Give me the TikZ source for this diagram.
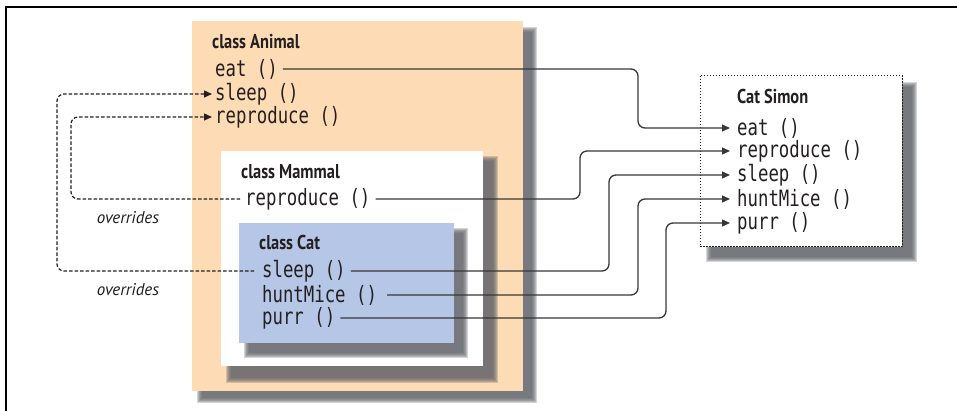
\documentclass[tikz,border=0pt]{standalone}
\usepackage{fontspec}
\setmainfont{PT Sans}
\newfontfamily\monof[FakeStretch=0.77]{DejaVu Sans Mono}
\newfontfamily\headf[FakeStretch=0.82]{PT Sans}
\usetikzlibrary{arrows.meta}
\definecolor{peach}{RGB}{253,219,180}
\definecolor{catblue}{RGB}{181,198,230}
\definecolor{shd}{RGB}{100,101,106}
\definecolor{txt}{RGB}{35,31,32}
\definecolor{linec}{RGB}{55,55,55}
\newcommand{\softshadow}[4]{%
  \foreach \k in {0,1,2,3,4,5}{%
    \fill[shd, opacity=0.28] (#1+\k,#2+\k) rectangle (#3-\k,#4-\k);
  }}
\tikzset{
  mono/.style={font=\monof\fontsize{22.5}{22.5}\selectfont, text=txt, inner sep=1pt, anchor=west},
  head/.style={font=\headf\bfseries\fontsize{20}{20}\selectfont, text=txt, inner sep=1pt, anchor=west},
  ovr/.style={font=\itshape\fontsize{17}{17}\selectfont, text=txt, inner sep=1pt},
  conn/.style={draw=linec, line width=1.3pt, rounded corners=7pt, shorten <=4pt,
    -{Triangle[length=8pt,width=7pt]}},
  dconn/.style={draw=txt, line width=1.2pt, rounded corners=7pt, dash pattern=on 3.5pt off 2pt,
    -{Triangle[length=8pt,width=7pt]}},
  simonbox/.style={draw=txt, line width=1pt, dash pattern=on 1.5pt off 1.5pt, fill=white},
}
\begin{document}
\begin{tikzpicture}[x=1pt,y=-1pt]
\useasboundingbox (0,0) rectangle (957,411);
\fill[white] (0,0) rectangle (957,411);
\draw[black, line width=1.3pt] (6,412) -- (6,7) -- (958,7);

% class Animal
\softshadow{197}{27}{537}{403}
\fill[peach] (192,21) rectangle (523,391);
% class Mammal
\softshadow{226}{156}{498}{383}
\fill[white] (221,151) rectangle (483,366);
% class Cat
\softshadow{244}{228}{468}{358}
\fill[catblue] (239,223) rectangle (454,343);
% Cat Simon
\softshadow{706}{82}{917}{262}
\path[simonbox] (700,76) rectangle (902,247);

% texts
\node[head] (hanimal) at (211,42) {class Animal};
\node[mono] (aeat) at (214,69) {eat ()};
\node[mono] (asleep) at (214,94) {sleep ()};
\node[mono] (arep) at (214,117) {reproduce ()};
\node[head] (hmammal) at (240,172) {class Mammal};
\node[mono] (mrep) at (244,199) {reproduce ()};
\node[head] (hcat) at (258,243) {class Cat};
\node[mono] (csleep) at (261,271) {sleep ()};
\node[mono] (chunt) at (261,295) {huntMice ()};
\node[mono] (cpurr) at (261,318) {purr ()};
\node[head] (hsimon) at (736,97) {Cat Simon};
\node[mono] (seat) at (736,128) {eat ()};
\node[mono] (srep) at (736,151) {reproduce ()};
\node[mono] (ssleep) at (736,175) {sleep ()};
\node[mono] (shunt) at (736,199) {huntMice ()};
\node[mono] (spurr) at (736,223) {purr ()};
\node[ovr] (ov1) at (128,218) {overrides};
\node[ovr] (ov2) at (128,290) {overrides};

% turning columns
\coordinate (v1) at (638,0);
\coordinate (v2) at (580,0);
\coordinate (v3) at (609,0);
\coordinate (v4) at (638,0);
\coordinate (v5) at (666,0);
\coordinate (d1) at (71,0);
\coordinate (d2) at (57,0);

% solid connectors
\draw[conn, shorten >=6pt] (aeat.east) -- (aeat.east -| v1) |- (seat.west);
\draw[conn, shorten >=6pt] (mrep.east) -- (mrep.east -| v2) |- (srep.west);
\draw[conn, shorten >=6pt] (csleep.east) -- (csleep.east -| v3) |- (ssleep.west);
\draw[conn, shorten >=6pt, shorten <=9pt] (chunt.east) -- (chunt.east -| v4) |- (shunt.west);
\draw[conn, shorten >=6pt] (cpurr.east) -- (cpurr.east -| v5) |- (spurr.west);

% dashed connectors
\draw[dconn, shorten <=4pt, shorten >=2pt] (mrep.west) -- (mrep.west -| d1) |- (arep.west);
\draw[dconn, shorten <=7pt, shorten >=2pt] (csleep.west) -- (csleep.west -| d2) |- (asleep.west);
\end{tikzpicture}
\end{document}
